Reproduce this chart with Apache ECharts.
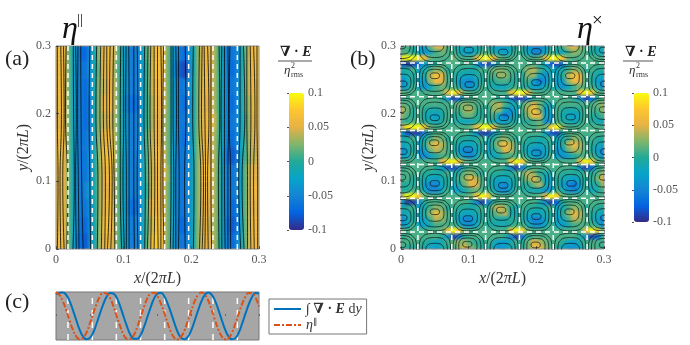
<!DOCTYPE html>
<html>
<head>
<meta charset="utf-8">
<script src="https://cdn.jsdelivr.net/npm/echarts@6/dist/echarts.min.js"></script>
<style>
  html, body { margin: 0; background: #fff; }
  #clip { position: absolute; left: 0; top: 0; width: 690px; height: 345px;
    clip-path: path('M56 46h203v203h-203z M401 46h203v203h-203z'); }
  #heat { width: 690px; height: 345px; filter: blur(1.5px); }
  #main { position: absolute; left: 0; top: 0; width: 690px; height: 345px; }
</style>
</head>
<body>
<div id="clip"><div id="heat"></div></div>
<div id="main"></div>
<script>
// colour values in units of 0.01, first row is the top of the panel
var heatA = [
  [7,6,5,2,-2,-5,-7,-7,-4,-1,3,5,6,5,3,0,-3,-5,-6,-5,-3,1,4,6,7,5,2,-2,-5,-6,-7,-4,-1,3,5,6,5,3,0,-4,-6,-6,-5,-2,2,5,6,7],
  [6,6,5,2,-2,-5,-6,-6,-4,-1,2,5,6,5,2,0,-3,-5,-6,-5,-3,0,4,7,7,5,2,-3,-6,-8,-9,-5,-1,3,5,6,5,3,0,-4,-6,-7,-5,-2,2,5,6,7],
  [6,6,5,2,-2,-5,-6,-7,-4,-1,3,4,5,5,3,0,-3,-5,-6,-5,-3,0,4,6,6,5,2,-2,-5,-6,-6,-4,-1,3,5,6,5,3,0,-4,-6,-6,-5,-2,2,5,6,6],
  [5,6,5,2,-2,-5,-6,-7,-5,-1,3,5,6,5,3,0,-4,-6,-7,-6,-3,0,3,6,5,5,2,-2,-5,-6,-7,-5,-1,3,5,5,5,3,0,-4,-6,-7,-5,-2,2,4,6,6],
  [5,5,5,2,-2,-5,-6,-7,-5,-1,3,4,5,4,3,0,-3,-5,-6,-5,-3,0,3,5,5,4,2,-2,-5,-6,-6,-4,-1,3,5,6,6,4,0,-4,-6,-6,-5,-2,1,4,5,6],
  [6,6,5,2,-2,-5,-6,-6,-5,-1,3,5,6,6,3,0,-3,-5,-6,-5,-3,1,4,5,5,4,2,-2,-5,-6,-7,-4,-1,3,5,6,5,3,0,-4,-6,-7,-5,-2,1,4,5,5],
  [7,7,5,2,-2,-5,-6,-6,-4,-1,3,6,7,6,3,0,-3,-5,-6,-5,-3,1,4,6,6,5,2,-2,-5,-6,-6,-4,-1,3,5,6,5,3,0,-5,-7,-8,-6,-2,1,4,4,5],
  [6,6,5,2,-2,-5,-6,-6,-4,-1,3,5,6,5,3,0,-3,-5,-6,-5,-3,1,4,5,6,6,3,-2,-5,-6,-6,-4,-1,3,6,7,6,3,0,-4,-6,-6,-5,-2,2,5,5,5],
  [6,6,5,2,-2,-5,-6,-5,-3,-1,3,5,5,5,3,0,-3,-5,-6,-5,-3,0,4,6,6,5,2,-2,-5,-6,-6,-4,-1,3,5,6,5,3,0,-4,-6,-6,-5,-2,2,5,6,6],
  [6,6,5,2,-2,-5,-6,-6,-4,-1,3,5,6,5,3,0,-3,-6,-7,-6,-3,1,5,6,6,5,2,-2,-5,-6,-6,-4,-1,3,5,5,5,3,0,-4,-6,-7,-6,-2,2,5,5,6],
  [5,6,5,2,-2,-5,-7,-7,-4,-1,3,6,7,5,3,0,-3,-5,-6,-5,-3,1,4,7,7,5,2,-2,-5,-7,-7,-4,-1,3,5,5,4,3,0,-4,-7,-8,-6,-2,2,5,6,6],
  [6,6,5,2,-2,-6,-7,-8,-4,-1,3,5,6,5,3,0,-3,-5,-6,-5,-3,1,5,8,7,5,2,-2,-5,-6,-6,-4,-1,3,5,5,5,3,0,-4,-6,-7,-5,-2,2,5,6,6]
];
var heatB = [
  [1,1,0,-3,-3,2,5,5,1,0,-1,-2,-2,-1,0,0,-2,-3,-3,-1,0,0,-3,-5,-5,-3,0,0,1,4,5,3,1,0,-1,-1],
  [1,1,0,-2,-4,-2,1,2,1,1,-1,-3,-3,-1,1,1,-1,-2,-3,-1,1,0,-2,-5,-5,-2,1,-1,-2,1,3,2,1,0,-1,-2],
  [9,10,10,9,6,2,1,1,1,2,1,1,1,5,10,10,6,2,1,1,1,1,1,1,2,6,10,10,7,2,1,1,1,1,1,1],
  [-8,-9,-9,-7,-3,-1,0,1,1,1,1,1,1,-3,-8,-9,-5,0,1,1,1,1,1,1,0,-3,-8,-9,-6,0,1,1,1,1,1,1],
  [-1,0,1,-2,-1,1,3,2,0,1,0,0,-1,0,1,1,2,3,2,1,1,1,3,4,1,-1,-1,-2,-1,1,3,2,0,1,0,0],
  [-2,-1,0,-2,0,4,7,5,1,0,-1,-2,-2,-1,0,1,1,3,3,1,0,0,3,3,-2,-4,-2,-2,0,4,7,5,1,0,-1,-2],
  [-5,-2,0,-3,-3,3,6,5,1,0,-3,-4,-5,-2,0,0,0,1,1,0,0,0,1,-3,-6,-4,-1,-3,-3,3,6,5,1,0,-3,-4],
  [-4,-2,1,-2,-4,-2,1,2,1,1,-1,-4,-4,-2,1,0,-1,-2,-2,0,1,0,-1,-3,-3,-1,0,-2,-4,-2,1,2,1,1,-1,-4],
  [2,1,1,1,1,1,1,2,6,10,7,2,1,1,1,1,1,1,1,6,10,10,6,2,1,1,1,1,1,1,1,6,10,8,2,1],
  [0,1,1,1,1,1,1,0,-4,-9,-6,0,1,1,1,1,1,0,-1,-5,-9,-9,-5,0,1,1,1,1,1,1,0,-4,-9,-7,0,1],
  [2,1,1,1,1,1,1,1,1,1,2,3,2,1,1,1,3,4,1,-1,-1,1,3,5,2,-1,-1,1,1,1,1,1,1,1,2,3],
  [4,2,0,1,0,-1,-1,0,1,1,1,3,4,1,0,0,3,3,-2,-4,-2,1,4,7,3,-3,-2,1,0,-1,-1,0,1,1,1,3],
  [3,1,0,1,-1,-2,-3,-1,1,0,0,2,2,0,0,0,1,-3,-6,-4,-1,0,3,6,5,-2,-3,1,-1,-2,-3,-1,1,0,0,1],
  [1,0,1,1,0,-1,-2,0,1,0,-1,-2,-2,0,1,0,-1,-3,-3,-1,0,0,0,1,2,-4,-4,1,0,-1,-2,0,1,0,-1,-2],
  [4,9,10,10,7,2,1,1,1,1,1,1,2,6,10,10,6,2,1,1,1,1,1,1,2,2,8,10,3,1,1,1,1,1,1,1],
  [-3,-8,-9,-9,-5,0,1,1,1,1,1,1,0,-4,-9,-9,-4,0,1,1,1,1,1,1,1,-2,-8,-9,-1,1,1,1,1,1,1,1],
  [-1,0,1,-2,-1,1,3,2,0,1,0,0,-1,0,1,-1,0,2,3,1,0,1,0,0,-1,0,1,-2,-1,1,3,2,0,1,0,0],
  [-2,-1,0,-2,0,4,6,4,1,0,-1,-2,-2,-1,0,-2,1,4,7,4,1,0,-1,-1,-2,-1,0,-2,0,4,6,4,1,0,-1,-2],
  [-5,-2,0,-4,-3,2,4,3,1,0,-3,-5,-5,-2,0,-2,-1,2,5,4,1,0,-2,-4,-4,-2,0,-4,-3,2,4,3,1,0,-3,-5],
  [-4,-2,1,-3,-5,-3,0,1,1,1,-1,-4,-5,-2,1,-1,-2,-1,1,1,1,1,-1,-3,-4,-2,1,-3,-4,-3,0,1,1,1,-1,-4],
  [2,1,1,1,1,1,1,5,9,10,7,2,1,1,1,1,1,1,1,7,10,8,2,1,1,1,1,1,1,1,1,6,10,8,2,1],
  [0,1,1,1,1,1,0,-3,-8,-9,-5,0,1,1,1,1,1,1,0,-5,-9,-6,0,1,1,1,1,1,1,1,0,-4,-9,-7,0,1],
  [1,1,1,1,0,0,-1,0,1,-1,0,2,3,1,0,1,0,0,-1,0,1,2,4,3,0,-1,-1,1,0,0,0,0,1,0,1,3],
  [1,1,0,0,-1,-2,-3,-1,0,-1,1,3,6,4,1,0,-1,-2,-2,-1,0,1,3,5,2,-2,-2,0,-1,-2,-3,-1,0,0,2,5],
  [0,0,0,0,-3,-5,-5,-2,0,-2,-1,2,5,5,1,0,-2,-4,-5,-2,0,0,0,2,4,-1,-3,0,-3,-5,-6,-3,0,-1,0,3],
  [0,0,1,1,-2,-5,-5,-2,1,-2,-3,-1,1,2,1,1,-1,-4,-5,-2,1,0,-1,-1,-2,-4,-3,1,-1,-4,-5,-2,1,-2,-1,1],
  [4,10,10,7,2,1,1,1,1,1,1,1,2,7,10,8,2,1,1,1,1,1,1,1,2,6,10,8,2,1,1,1,1,1,1,1],
  [-3,-9,-9,-5,0,1,1,1,1,1,1,1,0,-5,-9,-6,0,1,1,1,1,1,1,1,-1,-5,-9,-7,0,1,1,1,1,1,1,1],
  [-1,0,1,-2,-1,1,3,2,0,1,0,0,-1,0,1,0,3,5,3,0,-1,1,0,0,-1,0,1,-2,-1,1,3,2,0,1,0,0],
  [-2,-1,0,-2,0,3,6,4,1,0,-1,-2,-2,-1,0,0,1,3,4,-1,-1,0,-1,-2,-2,-1,0,-2,0,3,6,4,1,0,-1,-2],
  [-5,-2,0,-3,-2,1,4,3,1,0,-3,-5,-5,-2,0,0,0,-1,-1,0,0,0,-3,-5,-5,-2,0,-3,-2,1,4,3,1,0,-3,-5],
  [-4,-2,1,-2,-3,-1,1,1,1,1,-1,-4,-4,-2,1,0,-1,-1,-1,0,1,1,-1,-4,-4,-2,1,-2,-3,-1,1,1,1,1,-1,-4],
  [2,1,1,1,1,1,1,2,6,10,7,2,1,1,1,1,1,1,1,7,10,8,2,1,1,1,1,1,1,1,1,1,6,10,8,2],
  [0,1,1,1,1,1,1,0,-4,-9,-6,0,1,1,1,1,1,1,0,-5,-9,-6,0,1,1,1,1,1,1,1,1,0,-4,-9,-7,0],
  [1,1,1,1,0,-1,-2,-1,1,2,3,3,1,0,0,1,-1,-3,-3,-1,1,0,2,5,4,2,1,1,0,-2,-3,-1,1,1,1,1],
  [1,0,0,0,-1,-2,-3,-1,0,1,3,5,3,1,0,0,-2,-4,-3,-1,0,0,2,6,6,3,1,0,-2,-4,-4,-2,0,1,1,0]
];

// near vertical streamlines of (a): x at y = 0, 0.1, 0.2, 0.3
var streamY = [0, 0.1, 0.2, 0.3];
var streamsA = [
  [.002,.003,.002,.002],[.007,.006,.008,.007],[.012,.010,.012,.011],[.016,.017,.014,.015],
  [.025,.027,.026,.0256],[.030,.029,.030,.029],[.034,.033,.032,.0325],[.040,.038,.037,.0365],
  [.051,.050,.049,.050],[.061,.062,.059,.060],[.067,.068,.065,.066],[.072,.073,.070,.071],
  [.076,.079,.075,.075],[.081,.083,.079,.080],[.087,.086,.084,.085],[.097,.095,.095,.0956],
  [.101,.099,.100,.0995],[.104,.104,.103,.1035],[.108,.108,.108,.1075],[.116,.115,.115,.115],
  [.121,.120,.121,.120],[.131,.132,.130,.131],[.135,.137,.135,.136],[.140,.141,.139,.140],
  [.145,.146,.145,.145],[.151,.150,.150,.150],[.155,.155,.156,.155],[.160,.158,.158,.159],
  [.169,.170,.170,.170],[.173,.174,.173,.173],[.177,.177,.178,.177],[.181,.182,.181,.181],
  [.191,.190,.192,.191],[.203,.204,.202,.203],[.212,.214,.211,.212],[.216,.218,.215,.216],
  [.220,.221,.220,.219],[.225,.224,.226,.224],[.230,.229,.229,.229],[.241,.240,.242,.241],
  [.245,.245,.244,.245],[.250,.249,.249,.249],[.254,.254,.255,.254],[.258,.258,.256,.257],
  [.273,.270,.272,.272],[.278,.275,.279,.277],[.283,.283,.282,.282],[.288,.287,.288,.287],
  [.293,.292,.294,.292],[.298,.298,.297,.297]
];

// eye of each vortex of (b), top row y = 0.3 down to y = 0, columns x = 0 .. 0.3
var eyeX = [
  [.000,.050,.100,.151,.200,.250,.300],
  [.002,.050,.1015,.148,.200,.250,.302],
  [.000,.050,.099,.152,.200,.2507,.300],
  [.002,.049,.099,.150,.200,.249,.302],
  [.000,.050,.100,.151,.200,.252,.300],
  [.002,.050,.099,.148,.200,.249,.302],
  [.000,.050,.098,.151,.199,.251,.300]
];
var eyeY = [
  [.300,.306,.294,.291,.292,.305,.294],
  [.244,.256,.243,.257,.246,.256,.244],
  [.206,.194,.2085,.194,.203,.195,.206],
  [.144,.157,.147,.156,.142,.158,.144],
  [.106,.097,.106,.094,.103,.097,.106],
  [.046,.055,.045,.0575,.048,.055,.046],
  [.006,-.006,.007,-.006,.006,-.006,.006]
];
// nested contours: half width, half height, how far they lean to the eye
var contourRx = [.0232, .0185, .0135, .0068];
var contourRy = [.0232, .0185, .0120, .0042];
var contourLean = [0, .25, .6, 1];
var contourShapeX = [0, .5, .78, .95, 1, .95, .78, .5, 0, -.5, -.78, -.95, -1, -.95, -.78, -.5, 0];
var contourShapeY = [1, .95, .78, .5, 0, -.5, -.78, -.95, -1, -.95, -.78, -.5, 0, .5, .78, .95, 1];

var dashA = [.0177, .0537, .0892, .125, .1606, .196, .232, .268];
var dashB = [.025, .075, .125, .175, .225, .275];

// line cuts of (c), x every 0.005
var curveX = [];
for (var c = 0; c <= 60; c++) curveX.push(c * 0.005);
var intDiv = [.92,.99,1,.90,.64,.25,-.18,-.59,-.87,-.99,-.93,-.70,-.32,.11,.51,.83,.98,.95,.76,.40,-.03,-.45,-.80,-.97,-.97,-.81,-.47,-.05,.38,.75,.95,.99,.84,.53,.13,-.30,-.69,-.93,-.99,-.88,-.60,-.19,.24,.63,.90,1,.91,.65,.26,-.17,-.58,-.87,-.99,-.94,-.71,-.33,.10,.50,.82,.98,.96];
var etaPar = [1,.90,.64,.25,-.18,-.59,-.87,-.99,-.93,-.70,-.32,.11,.51,.83,.98,.95,.76,.40,-.03,-.45,-.80,-.97,-.97,-.81,-.47,-.05,.38,.75,.95,.99,.84,.53,.13,-.30,-.69,-.93,-.99,-.88,-.60,-.19,.24,.63,.90,1,.91,.65,.26,-.17,-.58,-.87,-.99,-.94,-.71,-.33,.10,.50,.82,.98,.96,.77,.41];

var parula = ['#352a87', '#0363e1', '#1485d4', '#06a4ca', '#22a998', '#80b56c', '#e6b246', '#fdc62f', '#f9fb0e'];
var serif = '"Liberation Serif", "DejaVu Serif", serif';
var tickColor = '#555';

function toCells (rows) {
  var out = [];
  rows.forEach(function (row, r) {
    row.forEach(function (v, i) { out.push([i, rows.length - 1 - r, v]); });
  });
  return out;
}
function indices (n) {
  var out = [];
  for (var i = 0; i < n; i++) out.push(i);
  return out;
}

// colour fields, blurred a little in css like the source bitmap
var heat = echarts.init(document.getElementById('heat'));
heat.setOption({
  animation: false,
  grid: [
    { left: 54, top: 44, width: 207, height: 207 },
    { left: 399, top: 44, width: 207, height: 207 }
  ],
  xAxis: [
    { type: 'category', gridIndex: 0, show: false, data: indices(heatA[0].length) },
    { type: 'category', gridIndex: 1, show: false, data: indices(heatB[0].length) }
  ],
  yAxis: [
    { type: 'category', gridIndex: 0, show: false, data: indices(heatA.length) },
    { type: 'category', gridIndex: 1, show: false, data: indices(heatB.length) }
  ],
  visualMap: { show: false, min: -10, max: 10, inRange: { color: parula } },
  series: [
    { type: 'heatmap', xAxisIndex: 0, yAxisIndex: 0, data: toCells(heatA) },
    { type: 'heatmap', xAxisIndex: 1, yAxisIndex: 1, data: toCells(heatB) }
  ]
});

// lines, axes and text on top
function streamData () {
  var out = [];
  streamsA.forEach(function (line) {
    line.forEach(function (x, i) { out.push([x, streamY[i]]); });
    out.push([0, '-']);
  });
  return out;
}
function contourData () {
  var out = [];
  eyeX.forEach(function (row, r) {
    row.forEach(function (ex, k) {
      var cx = k * 0.05;
      var cy = 0.3 - r * 0.05;
      contourRx.forEach(function (rx, n) {
        var ox = cx + (ex - cx) * contourLean[n];
        var oy = cy + (eyeY[r][k] - cy) * contourLean[n];
        contourShapeX.forEach(function (sx, s) {
          out.push([ox + sx * rx, oy + contourShapeY[s] * contourRy[n]]);
        });
        out.push([0, '-']);
      });
    });
  });
  return out;
}
function verticalDashes (list, bottom, top) {
  var out = [];
  list.forEach(function (x) {
    out.push([x, bottom], [x, top], [x, '-']);
  });
  return out;
}
function horizontalDashes (list) {
  var out = [];
  list.forEach(function (y) {
    out.push([0, y], [0.3, y], ['-', y]);
  });
  return out;
}
function plain (name, data, xi, lineStyle, extra) {
  return Object.assign({
    type: 'line', name: name, xAxisIndex: xi, yAxisIndex: xi, data: data,
    symbol: 'none', silent: true, lineStyle: lineStyle
  }, extra || {});
}
var nameRich = {
  i: { fontFamily: serif, fontStyle: 'italic', fontSize: 16, color: '#333' },
  n: { fontFamily: serif, fontSize: 16, color: '#333' }
};
function plotX (grid) {
  return {
    type: 'value', gridIndex: grid, min: 0, max: 0.3, interval: 0.1,
    name: '{i|x}{n|/(2}{i|πL}{n|)}', nameLocation: 'middle', nameGap: 15,
    nameTextStyle: { rich: nameRich },
    axisLine: { show: false }, splitLine: { show: false },
    axisTick: { inside: true, length: 3, lineStyle: { color: tickColor } },
    axisLabel: { fontFamily: serif, fontSize: 12, color: tickColor, margin: 5 }
  };
}
function plotY (grid) {
  return {
    type: 'value', gridIndex: grid, min: 0, max: 0.3, interval: 0.1,
    name: '{i|y}{n|/(2}{i|πL}{n|)}', nameLocation: 'middle', nameGap: 21,
    nameTextStyle: { rich: nameRich },
    axisLine: { show: false }, splitLine: { show: false },
    axisTick: { inside: true, length: 3, lineStyle: { color: tickColor } },
    axisLabel: { fontFamily: serif, fontSize: 12, color: tickColor, margin: 5 }
  };
}
function barAxis (grid) {
  return {
    type: 'value', gridIndex: grid, position: 'right', min: -0.1, max: 0.1, interval: 0.05,
    axisLine: { show: false }, splitLine: { show: false },
    axisTick: { inside: true, length: 2, lineStyle: { color: tickColor } },
    axisLabel: { fontFamily: serif, fontSize: 12, color: tickColor, margin: 4 }
  };
}
function hiddenX (grid) {
  return { type: 'value', gridIndex: grid, show: false, min: 0, max: 1 };
}
function colourBar (left, height) {
  return {
    show: true, seriesIndex: [], min: -0.1, max: 0.1, left: left, top: 93,
    itemWidth: 15, itemHeight: height, calculable: false, text: null, padding: 0,
    inRange: { color: parula }
  };
}
function label (text, x, y, size) {
  return { type: 'text', x: x, y: y, silent: true, style: { text: text, fontFamily: serif, fontSize: size, fill: '#222' } };
}
function fraction (x, lineW) {
  var rich = {
    b: { fontFamily: serif, fontWeight: 'bold', fontSize: 14, fill: '#222' },
    e: { fontFamily: serif, fontWeight: 'bold', fontStyle: 'italic', fontSize: 14, fill: '#222' }
  };
  return [
    { type: 'text', x: x + 2, y: 45, silent: true, style: { text: '{b|∇ · }{e|E}', rich: rich } },
    { type: 'line', silent: true, shape: { x1: x, y1: 61, x2: x + lineW, y2: 61 }, style: { stroke: '#555', lineWidth: 1 } },
    { type: 'text', x: x + 6, y: 64, silent: true, style: { text: 'η', fontFamily: serif, fontStyle: 'italic', fontSize: 13, fill: '#333' } },
    { type: 'text', x: x + 13, y: 62, silent: true, style: { text: '2', fontFamily: serif, fontSize: 8, fill: '#333' } },
    { type: 'text', x: x + 13, y: 71, silent: true, style: { text: 'rms', fontFamily: serif, fontSize: 8, fill: '#333' } }
  ];
}
function bigSymbol (sup, x, supDx, supY, supSize) {
  return [
    { type: 'text', x: x, y: 14, silent: true, style: { text: 'η', fontFamily: serif, fontStyle: 'italic', fontSize: 32, fill: '#111' } },
    { type: 'text', x: x + supDx, y: supY, silent: true, style: { text: sup, fontFamily: serif, fontSize: supSize, fill: '#111' } }
  ];
}

var legendNames = ['∫ ∇·E dy', 'η∥'];
var chart = echarts.init(document.getElementById('main'));
var whiteDash = { width: 1.5, color: '#fff', type: [5, 4] };
chart.setOption({
  animation: false,
  grid: [
    { left: 56, top: 46, width: 203, height: 203, show: true, borderColor: '#888', borderWidth: 1 },
    { left: 401, top: 46, width: 203, height: 203, show: true, borderColor: '#888', borderWidth: 1 },
    { left: 56, top: 292, width: 203, height: 48, show: true, backgroundColor: '#a6a6a6', borderColor: '#777', borderWidth: 1 },
    { left: 289, top: 93, width: 15, height: 137 },
    { left: 634, top: 93, width: 15, height: 129 }
  ],
  xAxis: [
    plotX(0), plotX(1),
    { type: 'value', gridIndex: 2, min: 0, max: 0.3, interval: 0.05, axisLabel: { show: false },
      axisLine: { show: false }, splitLine: { show: false },
      axisTick: { inside: true, length: 2, lineStyle: { color: '#666' } } },
    hiddenX(3), hiddenX(4)
  ],
  yAxis: [
    plotY(0), plotY(1),
    { type: 'value', gridIndex: 2, min: -1.02, max: 1.02, axisLabel: { show: false },
      axisLine: { show: false }, axisTick: { show: false }, splitLine: { show: false } },
    barAxis(3), barAxis(4)
  ],
  visualMap: [colourBar(289, 137), colourBar(634, 129)],
  legend: {
    left: 269, top: 299, orient: 'vertical', data: legendNames,
    itemWidth: 27, itemHeight: 8, itemGap: 2, padding: [3, 5, 2, 4],
    itemStyle: { opacity: 0 },
    backgroundColor: '#fff', borderColor: '#777', borderWidth: 1,
    formatter: function (name) {
      return name === legendNames[0] ? '{n|∫ }{b|∇ · }{e|E}{n| d}{i|y}' : '{i|η}{s|∥}';
    },
    textStyle: {
      rich: {
        n: { fontFamily: serif, fontSize: 14, color: '#333' },
        i: { fontFamily: serif, fontStyle: 'italic', fontSize: 14, color: '#333' },
        b: { fontFamily: serif, fontWeight: 'bold', fontSize: 14, color: '#333' },
        e: { fontFamily: serif, fontWeight: 'bold', fontStyle: 'italic', fontSize: 14, color: '#333' },
        s: { fontFamily: serif, fontSize: 9, color: '#333', verticalAlign: 'top' }
      }
    }
  },
  graphic: { elements: [
    label('(a)', 5, 48, 22), label('(b)', 350, 48, 22), label('(c)', 5, 291, 22)
  ].concat(
    bigSymbol('||', 62, 15, 13, 15),
    bigSymbol('×', 577, 15, 12, 19),
    fraction(278, 34),
    fraction(623, 30)
  ) },
  series: [
    plain('streamA', streamData(), 0, { width: 0.9, color: 'rgba(5,10,15,0.9)' }, { smooth: true, connectNulls: false }),
    plain('dashA', verticalDashes(dashA, 0, 0.3), 0, whiteDash),
    plain('contourB', contourData(), 1, { width: 0.9, color: 'rgba(10,28,25,0.85)' }, { smooth: 0.5, connectNulls: false }),
    plain('dashBv', verticalDashes(dashB, 0, 0.3), 1, whiteDash),
    plain('dashBh', horizontalDashes(dashB), 1, whiteDash),
    plain('dashC', verticalDashes(dashA, -1.02, 1.02), 2, { width: 1.5, color: '#fff', type: [6, 6] }),
    plain(legendNames[0], curveX.map(function (x, i) { return [x, intDiv[i]]; }), 2, { width: 2, color: '#0072bd' }, { smooth: true, itemStyle: { color: '#0072bd' } }),
    plain(legendNames[1], curveX.map(function (x, i) { return [x, etaPar[i]]; }), 2, { width: 2, color: '#d95319', type: [6, 2, 2, 2] }, { smooth: true, itemStyle: { color: '#d95319' } })
  ]
});
</script>
</body>
</html>
